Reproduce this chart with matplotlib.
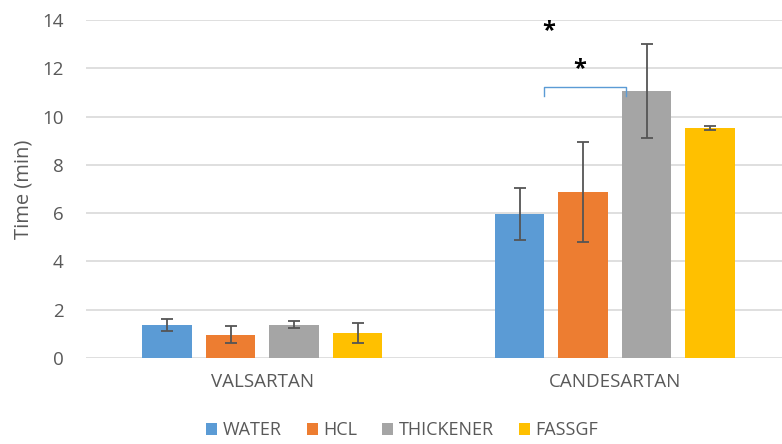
import matplotlib.pyplot as plt
import numpy as np

drugs = ['VALSARTAN', 'CANDESARTAN']
media = ['WATER', 'HCL', 'THICKENER', 'FASSGF']
colors = ['#5B9BD5', '#ED7D31', '#A5A5A5', '#FFC000']

# mean time (min) per medium, one value per drug
means = {
    'WATER': [1.37, 5.96],
    'HCL': [0.95, 6.87],
    'THICKENER': [1.37, 11.06],
    'FASSGF': [1.04, 9.52],
}
errors = {
    'WATER': [0.25, 1.08],
    'HCL': [0.35, 2.08],
    'THICKENER': [0.15, 1.95],
    'FASSGF': [0.42, 0.08],
}

plt.rcParams['font.family'] = ['Open Sans', 'DejaVu Sans']

fig = plt.figure(figsize=(7.82, 4.44), dpi=100)
ax = fig.add_axes([0.11, 0.194, 0.89, 0.761])

x = np.arange(len(drugs))
step = 0.18
width = 0.14
for i, m in enumerate(media):
    pos = x + (i - 1.5) * step
    ax.bar(pos, means[m], width, color=colors[i], label=m, zorder=2)
    ax.errorbar(pos, means[m], yerr=errors[m], fmt='none', ecolor='#555555',
                elinewidth=1.3, capsize=4.5, capthick=1.3, zorder=3)

# significance bracket
ax.plot([0.799, 0.799, 1.031, 1.031], [10.85, 11.23, 11.23, 10.85],
        color='#5B9BD5', lw=1, zorder=4)
ax.text(0.813, 13.55, '*', fontsize=17, fontweight='bold', ha='center', va='center')
ax.text(0.901, 11.97, '*', fontsize=17, fontweight='bold', ha='center', va='center')

ax.set_xlim(-0.5, 1.474)
ax.set_ylim(0, 14)
ax.set_yticks(range(0, 15, 2))
ax.set_xticks(x)
ax.set_xticklabels(drugs)
ax.grid(axis='y', color='#D9D9D9', lw=1.2, zorder=0)
ax.set_axisbelow(True)
for s in ax.spines.values():
    s.set_visible(False)
ax.tick_params(length=0, colors='#595959', labelsize=13.5)
ax.tick_params(axis='y', pad=16)
ax.tick_params(axis='x', pad=11)
ax.set_ylabel('Time (min)', color='#595959', fontsize=14.5, labelpad=6)

ax.legend(loc='upper center', bbox_to_anchor=(0.454, -0.15), ncol=4, frameon=False,
          fontsize=13, handlelength=0.6, handleheight=0.6, handletextpad=0.3,
          columnspacing=1.4, labelcolor='#595959', borderpad=0.2)

fig.savefig('out.png', dpi=100)
